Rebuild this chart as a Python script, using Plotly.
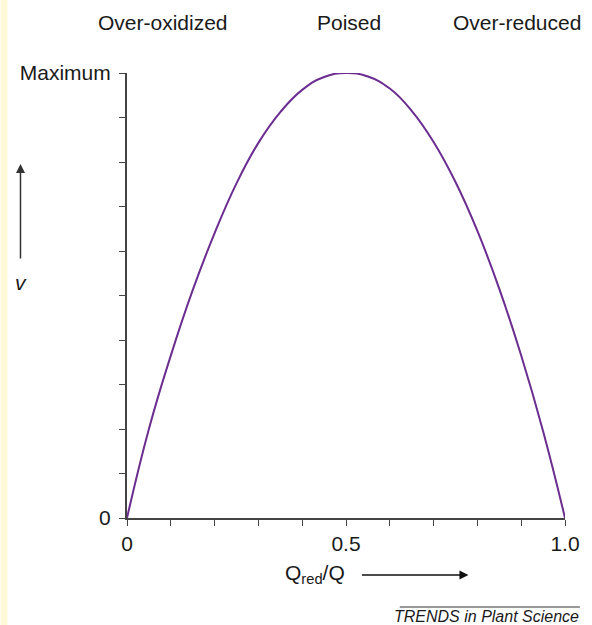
import plotly.graph_objects as go

# Data (fraction of reduced quinone vs relative rate)
q_red = [0, 0.05, 0.10, 0.15, 0.20, 0.25, 0.30, 0.35, 0.40, 0.45, 0.50,
         0.55, 0.60, 0.65, 0.70, 0.75, 0.80, 0.85, 0.90, 0.95, 1.0]
rate = [0, 0.2, 0.365, 0.512, 0.64, 0.752, 0.843, 0.912, 0.962, 0.991, 1.0,
        0.992, 0.965, 0.915, 0.845, 0.755, 0.645, 0.515, 0.365, 0.195, 0]

x_ticks = [0, 0.1, 0.2, 0.3, 0.4, 0.5, 0.6, 0.7, 0.8, 0.9, 1.0]
x_ticktext = ["0", "", "", "", "", "0.5", "", "", "", "", "1.0"]
y_ticks = [0, 0.1, 0.2, 0.3, 0.4, 0.5, 0.6, 0.7, 0.8, 0.9, 1.0]
y_ticktext = ["0", "", "", "", "", "", "", "", "", "", "Maximum"]

top_labels = ["Over-oxidized", "Poised", "Over-reduced"]

W, H = 592, 625
L, R, T, B = 127, 25, 73, 107
PW, PH = W - L - R, H - T - B


def px(x):
    return (x - L) / PW


def py(y):
    return (H - B - y) / PH


FONT = "Liberation Sans, Arial, sans-serif"
TXT = "#1a1a1a"

fig = go.Figure()
fig.add_trace(go.Scatter(
    x=q_red, y=rate, mode="lines",
    line=dict(color="#6b2d90", width=2, shape="spline", smoothing=1.3),
    cliponaxis=False, hoverinfo="skip", showlegend=False,
))

axis_common = dict(
    showgrid=False, zeroline=False, showline=True, linecolor="#444444",
    linewidth=2, ticks="outside", ticklen=6, tickwidth=1.3,
    tickcolor="#444444", tickfont=dict(family=FONT, size=21, color=TXT),
)

fig.update_layout(
    width=W, height=H,
    margin=dict(l=L, r=R, t=T, b=B),
    paper_bgcolor="white", plot_bgcolor="white",
    xaxis=dict(range=[0, 1], tickmode="array", tickvals=x_ticks,
               ticktext=x_ticktext, **axis_common),
    yaxis=dict(range=[0, 1], tickmode="array", tickvals=y_ticks,
               ticktext=y_ticktext, ticklabelstandoff=4, **axis_common),
)

shapes = [
    # yellow strip at left
    dict(type="rect", xref="paper", yref="paper", x0=px(0), x1=px(7),
         y0=py(H), y1=py(0), fillcolor="#fff9d9", line=dict(width=0),
         layer="below"),
    # line above credit
    dict(type="line", xref="paper", yref="paper", x0=px(401), x1=px(582),
         y0=py(607), y1=py(607), line=dict(color="#333333", width=1)),
]
fig.update_layout(shapes=shapes)

ann = []
for lab, cx in zip(top_labels, [163, 350, 519]):
    ann.append(dict(text=lab, xref="paper", yref="paper", x=px(cx), y=py(22),
                    showarrow=False, xanchor="center", yanchor="middle",
                    font=dict(family=FONT, size=21, color=TXT)))
ann.append(dict(text="<i>v</i>", xref="paper", yref="paper", x=px(21),
                y=py(282), showarrow=False, xanchor="center", yanchor="middle",
                font=dict(family=FONT, size=21, color=TXT)))
ann.append(dict(text="", xref="paper", yref="paper", x=px(20), y=py(164),
                ax=0, ay=96, showarrow=True, arrowhead=2, arrowsize=1.2,
                arrowwidth=1.5, arrowcolor="#333333"))
ann.append(dict(text="Q<sub>red</sub>/Q", xref="paper", yref="paper",
                x=px(316), y=py(574), showarrow=False, xanchor="center",
                yanchor="middle", font=dict(family=FONT, size=21, color=TXT)))
ann.append(dict(text="", xref="paper", yref="paper", x=px(470), y=py(575),
                ax=-108, ay=0, showarrow=True, arrowhead=2, arrowsize=1.2,
                arrowwidth=1.5, arrowcolor="#111111"))
ann.append(dict(text="<i>TRENDS in Plant Science</i>", xref="paper",
                yref="paper", x=px(583), y=py(616), showarrow=False,
                xanchor="right", yanchor="middle",
                font=dict(family=FONT, size=16, color=TXT)))
fig.update_layout(annotations=ann)

fig.write_html("out.html", config={"displayModeBar": False},
               post_script="document.body.style.margin='0';")
